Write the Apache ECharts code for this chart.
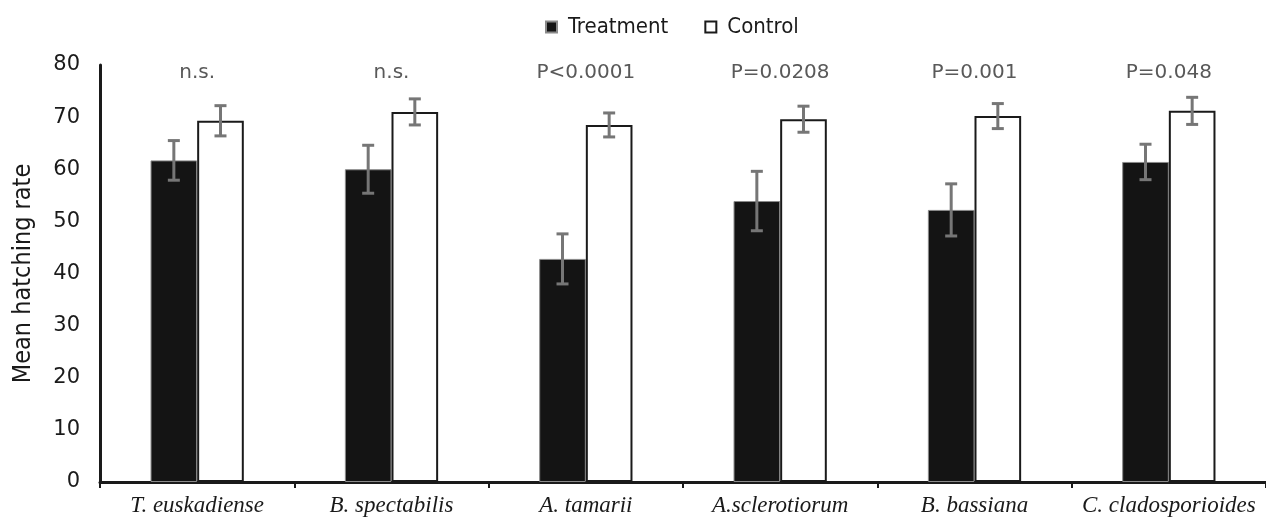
<!DOCTYPE html>
<html>
<head>
<meta charset="utf-8">
<script src="https://cdn.jsdelivr.net/npm/echarts@6/dist/echarts.min.js"></script>
<style>
    html, body { margin: 0; padding: 0; background: #fff; }
    #main { width: 1266px; height: 521px; }
</style>
</head>
<body>
<div id="main"></div>
<script>
// data
var categories = ['T. euskadiense', 'B. spectabilis', 'A. tamarii', 'A.sclerotiorum', 'B. bassiana', 'C. cladosporioides']
var treatment = [61.7, 60.0, 42.8, 53.9, 52.2, 61.4]
var treatmentErr = [3.8, 4.6, 4.8, 5.7, 5.0, 3.4]
var control = [69.3, 71.0, 68.5, 69.6, 70.2, 71.2]
var controlErr = [2.9, 2.5, 2.3, 2.5, 2.4, 2.6]
var pLabels = ['n.s.', 'n.s.', 'P<0.0001', 'P=0.0208', 'P=0.001', 'P=0.048']
var yTicks = { min: 0, max: 80, interval: 10 }

var BAR_RATIO = 0.24

function errData(vals, errs) {
    return vals.map(function (v, i) { return [i, v - errs[i], v + errs[i]] })
}

// draws an I-shaped error bar, shifted to sit on its bar
function errRenderer(side) {
    return function (params, api) {
        var i = api.value(0)
        var band = api.size([1, 0])[0]
        var dx = side * band * BAR_RATIO / 2
        var lo = api.coord([i, api.value(1)])
        var hi = api.coord([i, api.value(2)])
        var x = lo[0] + dx
        var cap = 6
        var style = { stroke: '#767676', lineWidth: 3 }
        return {
            type: 'group',
            children: [
                { type: 'line', shape: { x1: x, y1: lo[1], x2: x, y2: hi[1] }, style: style },
                { type: 'line', shape: { x1: x - cap, y1: lo[1], x2: x + cap, y2: lo[1] }, style: style },
                { type: 'line', shape: { x1: x - cap, y1: hi[1], x2: x + cap, y2: hi[1] }, style: style }
            ]
        }
    }
}

var chart = echarts.init(document.getElementById('main'))

var option = {
    animation: false,
    legend: {
        top: 11,
        left: 540,
        icon: 'rect',
        itemWidth: 11,
        itemHeight: 11,
        itemGap: 36,
        data: ['Treatment', 'Control'],
        textStyle: {
            fontFamily: 'DejaVu Sans Condensed',
            fontSize: 22,
            color: '#1a1a1a',
            padding: [0, 0, 0, 6]
        }
    },
    grid: {
        left: 100,
        top: 65,
        width: 1174,
        bottom: 39
    },
    xAxis: {
        type: 'category',
        data: categories,
        axisLine: { lineStyle: { color: '#1a1a1a', width: 3 } },
        axisTick: { show: true, length: 6, lineStyle: { color: '#1a1a1a', width: 2 } },
        axisLabel: {
            interval: 0,
            margin: 12,
            fontFamily: 'Liberation Serif',
            fontStyle: 'italic',
            fontSize: 23,
            color: '#1a1a1a'
        }
    },
    yAxis: {
        type: 'value',
        min: yTicks.min,
        max: yTicks.max,
        interval: yTicks.interval,
        name: 'Mean hatching rate',
        nameLocation: 'middle',
        nameGap: 64,
        nameTextStyle: { fontFamily: 'DejaVu Sans Condensed', fontSize: 25, color: '#1a1a1a' },
        splitLine: { show: false },
        axisTick: { show: false },
        axisLine: { show: true, lineStyle: { color: '#1a1a1a', width: 3 } },
        axisLabel: {
            margin: 20,
            fontFamily: 'DejaVu Sans',
            fontSize: 21,
            color: '#1a1a1a'
        }
    },
    series: [
        {
            name: 'Treatment',
            type: 'bar',
            data: treatment,
            barWidth: (BAR_RATIO * 100) + '%',
            barGap: '0%',
            itemStyle: { color: '#141414', borderColor: '#8a8a8a', borderWidth: 1 }
        },
        {
            name: 'Control',
            type: 'bar',
            data: control,
            barWidth: (BAR_RATIO * 100) + '%',
            barGap: '0%',
            itemStyle: { color: '#ffffff', borderColor: '#1a1a1a', borderWidth: 2 }
        },
        {
            type: 'custom',
            data: errData(treatment, treatmentErr),
            renderItem: errRenderer(-1),
            encode: { x: 0, y: [1, 2] },
            z: 5
        },
        {
            type: 'custom',
            data: errData(control, controlErr),
            renderItem: errRenderer(1),
            encode: { x: 0, y: [1, 2] },
            z: 5
        },
        {
            // significance labels above each group
            type: 'custom',
            data: pLabels.map(function (t, i) { return [i, 78.6, t] }),
            encode: { x: 0, y: 1 },
            renderItem: function (params, api) {
                var p = api.coord([api.value(0), api.value(1)])
                return {
                    type: 'text',
                    x: p[0],
                    y: p[1],
                    style: {
                        text: pLabels[params.dataIndex],
                        fontFamily: 'DejaVu Sans',
                        fontSize: 20,
                        fill: '#595959',
                        align: 'center',
                        verticalAlign: 'middle'
                    }
                }
            },
            z: 6
        }
    ]
}

chart.setOption(option)
</script>
</body>
</html>
